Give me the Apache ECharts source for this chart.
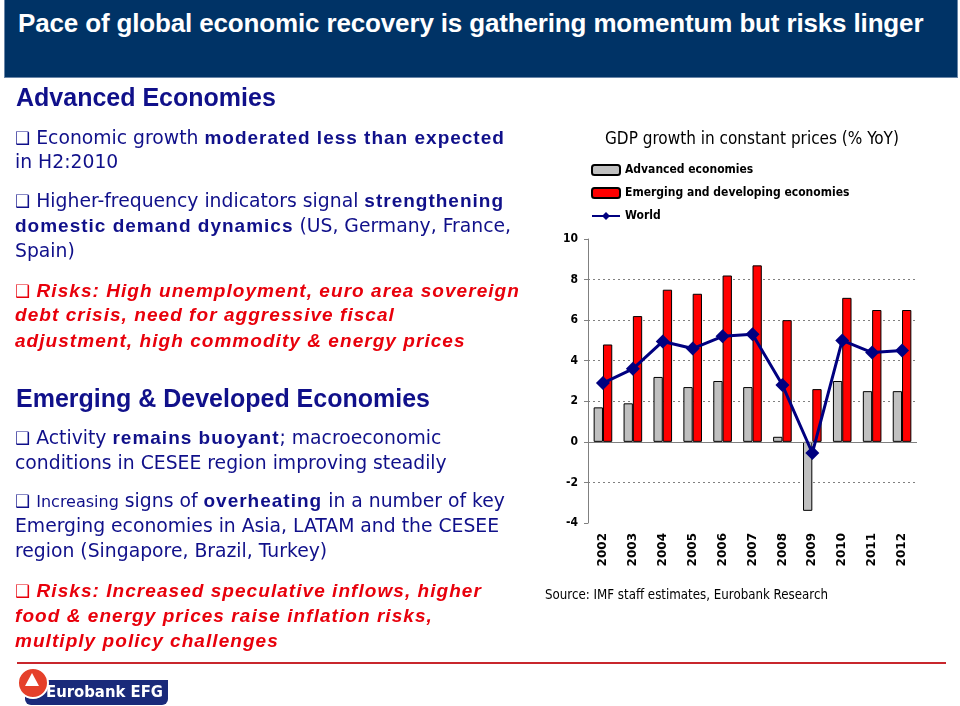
<!DOCTYPE html>
<html><head><meta charset="utf-8">
<script src="https://cdn.jsdelivr.net/npm/echarts@6/dist/echarts.min.js"></script>
<style>
html,body{margin:0;padding:0;width:960px;height:706px;background:#fff;overflow:hidden;}
#chart{position:absolute;left:0;top:0;width:960px;height:706px;}
.t{position:absolute;white-space:nowrap;font-family:"DejaVu Sans",sans-serif;color:#10108a;font-size:18.8px;}
.h{font-family:"Liberation Sans",Arial,sans-serif;font-weight:bold;font-size:25px;color:#10108a;}
.b{font-family:"Liberation Sans",Arial,sans-serif;font-weight:bold;letter-spacing:1px;font-size:19px;}
.r{color:#e8000b;font-family:"Liberation Sans",Arial,sans-serif;font-weight:bold;font-style:italic;letter-spacing:1.05px;font-size:19px;}
.q{font-family:"DejaVu Sans",sans-serif;font-size:17px;font-style:normal;letter-spacing:0;}
#bar{position:absolute;left:4px;top:0;width:952px;height:77px;background:#003366;border:1px solid #6a86a8;border-top:none;}
#title{position:absolute;left:13px;top:8px;color:#fff;font-family:"Liberation Sans",Arial,sans-serif;font-weight:bold;font-size:26px;white-space:nowrap;letter-spacing:-0.15px;}
#redline{position:absolute;left:17px;top:662px;width:929px;height:2px;background:#c8262c;}
#logo{position:absolute;left:17px;top:667px;}
</style></head><body>
<div id="chart"></div>
<div id="bar"><div id="title">Pace of global economic recovery is gathering momentum but risks linger</div></div>
<div class="t h" style="left:16px;top:83px;">Advanced Economies</div>
<div class="t" style="left:15px;top:127px;"><span class="q">❑</span> Economic growth <span class="b">moderated less than expected</span></div>
<div class="t" style="left:15px;top:151px;">in H2:2010</div>
<div class="t" style="left:15px;top:190px;"><span class="q">❑</span> Higher-frequency indicators signal <span class="b">strengthening</span></div>
<div class="t" style="left:15px;top:215px;"><span class="b">domestic demand dynamics</span> (US, Germany, France,</div>
<div class="t" style="left:15px;top:240px;">Spain)</div>
<div class="t r" style="left:15px;top:280px;"><span class="q">❑</span> Risks: <span>High unemployment, euro area sovereign</span></div>
<div class="t r" style="left:15px;top:304px;">debt crisis, need for aggressive fiscal</div>
<div class="t r" style="left:15px;top:330px;">adjustment, high commodity &amp; energy prices</div>
<div class="t h" style="left:16px;top:384px;">Emerging &amp; Developed Economies</div>
<div class="t" style="left:15px;top:427px;"><span class="q">❑</span> Activity <span class="b">remains buoyant</span>; macroeconomic</div>
<div class="t" style="left:15px;top:452px;">conditions in CESEE region improving steadily</div>
<div class="t" style="left:15px;top:490px;"><span class="q">❑</span> <span style="font-size:16px">Increasing</span> signs of <span class="b">overheating</span> in a number of key</div>
<div class="t" style="left:15px;top:515px;">Emerging economies in Asia, LATAM and the CESEE</div>
<div class="t" style="left:15px;top:540px;">region (Singapore, Brazil, Turkey)</div>
<div class="t r" style="left:15px;top:580px;"><span class="q">❑</span> Risks: Increased speculative inflows, higher</div>
<div class="t r" style="left:15px;top:605px;">food &amp; energy prices raise inflation risks,</div>
<div class="t r" style="left:15px;top:630px;">multiply policy challenges</div>
<div id="redline"></div>
<div id="logo">
  <div style="position:absolute;left:8px;top:13px;width:143px;height:25px;background:#1a2a7a;border-radius:0 0 6px 6px;"></div>
  <div style="position:absolute;left:0;top:0;width:28px;height:28px;border-radius:50%;background:#e5402a;border:2px solid #fff;"></div>
  <div style="position:absolute;left:8px;top:6px;width:0;height:0;border-left:7px solid transparent;border-right:7px solid transparent;border-bottom:13px solid #fff;"></div>
  <div style="position:absolute;left:29px;top:15px;color:#fff;font-family:'DejaVu Sans Condensed','DejaVu Sans',sans-serif;font-weight:bold;font-size:16.5px;white-space:nowrap;">Eurobank EFG</div>
</div>
<script>
var years = ['2002','2003','2004','2005','2006','2007','2008','2009','2010','2011','2012'];
var advanced = [1.7, 1.9, 3.2, 2.7, 3.0, 2.7, 0.25, -3.4, 3.0, 2.5, 2.5];
var emerging = [4.8, 6.2, 7.5, 7.3, 8.2, 8.7, 6.0, 2.6, 7.1, 6.5, 6.5];
var world = [2.9, 3.6, 4.95, 4.6, 5.2, 5.3, 2.8, -0.55, 5.0, 4.4, 4.5];
var yTicks = {min: -4, max: 10, interval: 2};

var chartFont = '"DejaVu Sans Condensed","DejaVu Sans",sans-serif';
var chart = echarts.init(document.getElementById('chart'));
chart.setOption({
  animation: false,
  title: [
    {text: 'GDP growth in constant prices (% YoY)', left: 600, top: 126,
     textStyle: {fontFamily: chartFont, fontSize: 17, fontWeight: 'normal', color: '#000'}},
    {text: 'Source: IMF staff estimates, Eurobank Research', left: 540, top: 584,
     textStyle: {fontFamily: chartFont, fontSize: 13.2, fontWeight: 'normal', color: '#000'}}
  ],
  legend: {
    orient: 'vertical', left: 586, top: 158, itemWidth: 28, itemHeight: 10, itemGap: 9,
    textStyle: {fontFamily: chartFont, fontSize: 12, fontWeight: 'bold', color: '#000', lineHeight: 14},
    data: ['Advanced economies', 'Emerging and developing economies', 'World']
  },
  grid: {left: 588, right: 43, top: 239, bottom: 183},
  xAxis: {
    type: 'category', data: years,
    axisLine: {show: false}, axisTick: {show: false},
    axisLabel: {rotate: 90, margin: 10, fontFamily: '"DejaVu Sans",sans-serif', fontSize: 12, fontWeight: 'bold', color: '#000'}
  },
  yAxis: {
    type: 'value', min: yTicks.min, max: yTicks.max, interval: yTicks.interval,
    axisLine: {show: true, lineStyle: {color: '#808080', width: 1}},
    axisTick: {show: true, length: 4, lineStyle: {color: '#808080'}},
    axisLabel: {fontFamily: chartFont, fontSize: 12, fontWeight: 'bold', color: '#000', margin: 10},
    splitLine: {show: true, lineStyle: {type: [2, 3], width: 1,
      color: ['rgba(0,0,0,0)', '#808080', 'rgba(0,0,0,0)', '#808080', '#808080', '#808080', '#808080', 'rgba(0,0,0,0)']}}
  },
  series: [
    {name: 'Advanced economies', type: 'bar', data: advanced, barWidth: 9.3, barGap: '0%',
     itemStyle: {color: '#c0c0c0', borderColor: '#000', borderWidth: 1},
     markLine: {silent: true, symbol: 'none', label: {show: false},
       lineStyle: {color: '#808080', type: 'solid', width: 1}, data: [{yAxis: 0}]}},
    {name: 'Emerging and developing economies', type: 'bar', data: emerging, barWidth: 9.3, barGap: '0%',
     itemStyle: {color: '#ff0000', borderColor: '#000', borderWidth: 1}},
    {name: 'World', type: 'line', data: world, z: 5,
     symbol: 'diamond', symbolSize: 14,
     lineStyle: {color: '#000080', width: 3},
     itemStyle: {color: '#000080'}}
  ]
});
</script>
</body></html>
